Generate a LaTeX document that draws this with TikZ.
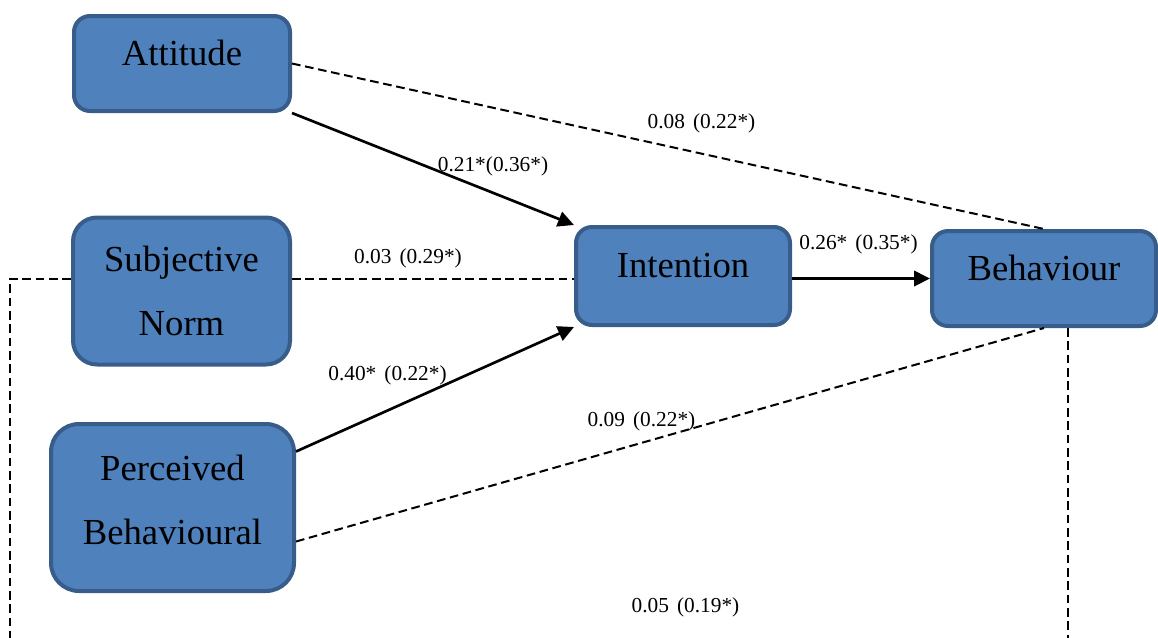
\documentclass[tikz,border=0pt]{standalone}
\usepackage{fontspec}
\setmainfont{Liberation Serif}
\usetikzlibrary{arrows.meta,calc}
\definecolor{boxfill}{HTML}{4F81BD}
\definecolor{boxline}{HTML}{385D8A}
% invisible strut that adds depth below the last text line
\newcommand\dropbase[1]{\rule[-#1]{0pt}{#1}}
% gap between estimate and bracketed estimate
\newcommand\gap{\hspace{0.38em}}
\begin{document}
\begin{tikzpicture}[x=0.75pt,y=-0.75pt,
  construct/.style={draw=boxline, fill=boxfill, line width=3pt, inner sep=0pt,
    align=center, font=\fontsize{27.5}{48}\selectfont},
  effect/.style={line width=2pt, -{Triangle[length=12pt,width=11.5pt]}},
  weak/.style={line width=1.5pt, dash pattern=on 6.5pt off 3.5pt},
  coef/.style={font=\fontsize{16}{19}\selectfont, anchor=base, inner sep=0pt}]

\useasboundingbox (0,0) rectangle (1158,637);
\clip (0,0) rectangle (1158,637);

% constructs
\node[construct, minimum width=162pt, minimum height=71.25pt, rounded corners=12pt]
  (att) at (182,63.5) {Attitude\dropbase{16pt}};
\node[construct, minimum width=162.75pt, minimum height=110.25pt, rounded corners=18pt]
  (sn) at (181.5,291) {Subjective\\Norm};
\node[construct, minimum width=182.25pt, minimum height=125.25pt, rounded corners=21pt]
  (pbc) at (172.5,507.5) {Perceived\\Behavioural\dropbase{12pt}};
\node[construct, minimum width=160.5pt, minimum height=73.5pt, rounded corners=12pt]
  (int) at (683,276) {Intention\dropbase{16pt}};
\node[construct, minimum width=168pt, minimum height=71.25pt, rounded corners=12pt]
  (beh) at (1044,278.5) {Behaviour\dropbase{16pt}};

% rails running off the lower edge
\coordinate (leftrail) at (10,645);
\coordinate (rightrail) at (1068,645);

% paths
\draw[weak] (att.east) -- (beh.north);
\draw[effect] (att.south east) -- (int.north west);
\draw[weak] (sn.east |- beh.west) -- (int.west |- beh.west);
\draw[effect] (int.east |- beh.west) -- (beh.west);
\draw[effect] ($(pbc.east)+(0,-56)$) -- (int.south west);
\draw[weak] ($(pbc.east)+(0,34)$) -- (beh.south);
\draw[weak] (sn.west |- beh.west) -- (leftrail |- beh.west) -- (leftrail);
\draw[weak] (rightrail |- beh.south) -- (rightrail);

% coefficients
\node[coef] (c1) at (701.5,128) {0.08\gap(0.22*)};
\node[coef] (c2) at (493,171.5) {0.21*(0.36*)};
\node[coef] (c3) at (408,263) {0.03\gap(0.29*)};
\node[coef] (c4) at (858.5,249) {0.26*\gap(0.35*)};
\node[coef] (c5) at (387.5,380) {0.40*\gap(0.22*)};
\node[coef] (c6) at (641.5,426) {0.09\gap(0.22*)};
\node[coef] (c7) at (685.5,612) {0.05\gap(0.19*)};
\end{tikzpicture}
\end{document}
